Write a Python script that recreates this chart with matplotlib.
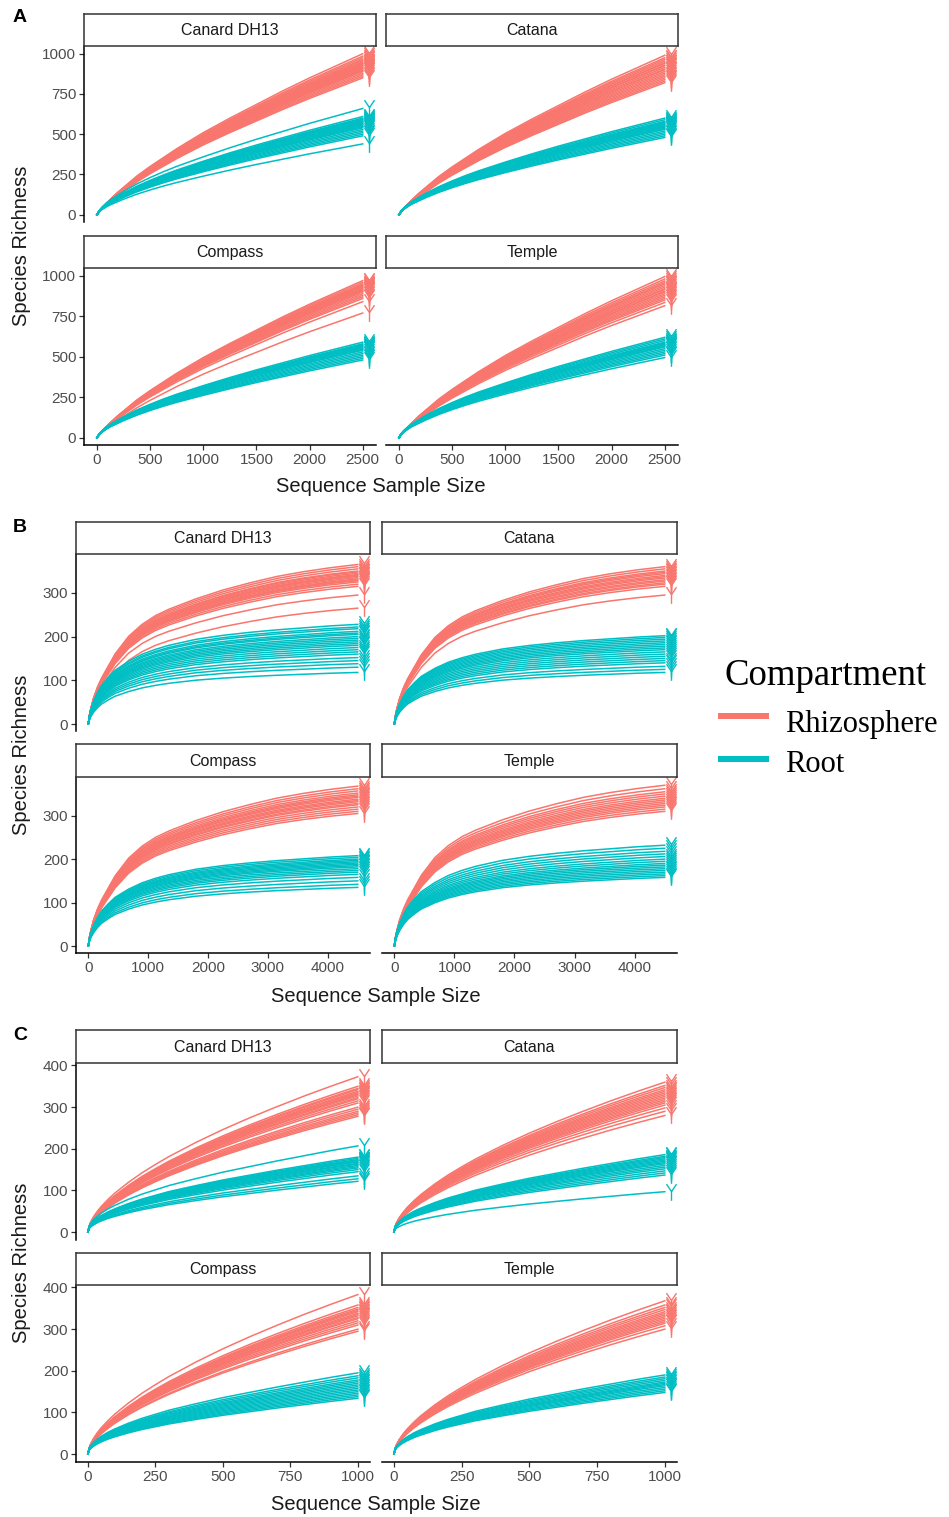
import matplotlib
matplotlib.use('Agg')
import matplotlib.pyplot as plt
from matplotlib.path import Path
from matplotlib.lines import Line2D

# rarefaction curves, 3 datasets (A, B, C) x 4 cultivars x 2 compartments

cultivars = ['Canard DH13', 'Catana', 'Compass', 'Temple']
compartments = ['Rhizosphere', 'Root']
colors = ['#F8766D', '#00BFC4']

# sequencing depth where every curve stops
a_depth = 2500
b_depth = 4500
c_depth = 1000

# curve shape: richness / final richness at fractions of depth
depth_frac = [0, .005, .01, .02, .035, .05, .075, .1, .15, .2, .25, .3, .4, .5, .6, .7, .8, .9, 1.0]
a_rhizo_shape = [0, .012, .025, .045, .07, .095, .135, .17, .24, .3, .355, .41, .51, .6, .685, .77, .85, .925, 1]
a_root_shape = [0, .025, .045, .075, .11, .14, .18, .22, .29, .35, .405, .455, .545, .63, .71, .785, .86, .93, 1]
b_rhizo_shape = [0, .06, .1, .165, .235, .29, .365, .44, .55, .625, .68, .72, .785, .84, .885, .925, .955, .98, 1]
b_root_shape = [0, .09, .15, .23, .32, .39, .47, .54, .63, .7, .75, .79, .85, .89, .92, .945, .965, .985, 1]
c_rhizo_shape = [0, .04, .063, .096, .134, .166, .211, .251, .32, .381, .435, .486, .577, .66, .736, .807, .875, .939, 1]
c_root_shape = [0, .07, .1, .14, .185, .22, .27, .31, .38, .44, .49, .54, .62, .695, .76, .825, .885, .945, 1]

# final richness of each sample (order: Canard DH13, Catana, Compass, Temple)
a_rhizo_end = [
    [1000, 985, 975, 965, 958, 950, 945, 940, 935, 930, 925, 920, 915, 910, 905, 900, 895, 890, 880, 870, 860, 850],
    [990, 975, 965, 955, 945, 940, 930, 925, 915, 905, 900, 890, 880, 870, 860, 850, 840, 830, 820],
    [970, 960, 950, 945, 940, 935, 930, 925, 920, 915, 910, 905, 900, 890, 880, 870, 860, 840, 770],
    [995, 980, 968, 958, 950, 940, 930, 920, 915, 905, 900, 890, 880, 870, 860, 850, 835, 815],
]
a_root_end = [
    [660, 610, 600, 595, 590, 585, 580, 575, 570, 565, 560, 555, 550, 545, 540, 530, 520, 510, 500, 490, 440],
    [600, 590, 580, 575, 570, 565, 560, 555, 550, 545, 540, 535, 530, 520, 510, 500, 490, 480],
    [590, 580, 575, 570, 565, 560, 555, 550, 545, 540, 530, 520, 510, 500, 490, 480],
    [620, 610, 600, 590, 585, 580, 575, 570, 565, 560, 550, 540, 530, 520, 510, 495],
]
b_rhizo_end = [
    [365, 360, 355, 350, 348, 345, 342, 340, 338, 335, 332, 330, 328, 325, 320, 315, 295, 265],
    [360, 355, 350, 347, 344, 340, 337, 334, 330, 327, 323, 320, 315, 295],
    [368, 362, 357, 352, 348, 345, 342, 338, 335, 332, 328, 325, 320, 315, 310, 305],
    [370, 362, 355, 350, 345, 340, 336, 332, 328, 324, 320, 315, 310],
]
b_root_end = [
    [228, 222, 218, 212, 208, 205, 200, 196, 192, 188, 184, 180, 175, 170, 165, 160, 152, 145, 138, 130, 118],
    [202, 198, 194, 190, 186, 182, 178, 174, 170, 165, 160, 155, 150, 145, 140, 132, 125, 118],
    [208, 204, 200, 197, 194, 191, 188, 185, 182, 178, 174, 170, 165, 158, 150, 142, 135],
    [232, 225, 218, 212, 206, 200, 195, 190, 186, 182, 178, 174, 170, 166, 162, 158],
]
c_rhizo_end = [
    [373, 350, 345, 342, 338, 335, 332, 330, 327, 323, 320, 315, 310, 300, 295, 290, 286, 282, 278],
    [360, 352, 347, 342, 338, 334, 330, 326, 322, 318, 314, 310, 305, 298, 290, 280],
    [383, 358, 352, 348, 345, 342, 338, 335, 332, 328, 325, 320, 315, 310, 300, 295],
    [368, 358, 352, 347, 342, 338, 334, 330, 326, 322, 318, 314, 308, 300],
]
c_root_end = [
    [207, 180, 177, 174, 172, 170, 168, 165, 163, 160, 157, 154, 150, 145, 135, 128, 122],
    [186, 182, 179, 176, 173, 170, 167, 164, 160, 156, 152, 147, 142, 137, 97],
    [195, 188, 183, 178, 174, 170, 166, 162, 158, 154, 150, 146, 142, 138, 134],
    [190, 185, 181, 177, 173, 170, 167, 164, 160, 156, 152, 148],
]

a_xticks = [0, 500, 1000, 1500, 2000, 2500]
b_xticks = [0, 1000, 2000, 3000, 4000]
c_xticks = [0, 250, 500, 750, 1000]
a_yticks = [0, 250, 500, 750, 1000]
b_yticks = [0, 100, 200, 300]
c_yticks = [0, 100, 200, 300, 400]

W, H = 949, 1517
SANS = 'Liberation Sans'
SERIF = 'Liberation Serif'

# Y shaped end marker
ymark = Path([(0, -1), (0, 0.1), (-0.6, 1), (0, 0.1), (0.6, 1)],
             [Path.MOVETO, Path.LINETO, Path.LINETO, Path.MOVETO, Path.LINETO])

fig = plt.figure(figsize=(W / 100, H / 100), dpi=100)


def rect(x0, y0, x1, y1):
    return [x0 / W, 1 - y1 / H, (x1 - x0) / W, (y1 - y0) / H]


def draw_block(letter, letter_y, cols, rows, depth, shapes, ends, xlim, ylim, xticks, yticks,
               xtitle_y, ytitle_y, xtitle_x):
    for k, name in enumerate(cultivars):
        r, c = divmod(k, 2)
        x0, x1 = cols[c]
        s0, s1, p1 = rows[r]
        # panel
        ax = fig.add_axes(rect(x0, s1, x1, p1))
        ax.set_facecolor('none')
        for g in range(2):
            for end in ends[g][k]:
                xs = [f * depth for f in depth_frac]
                ys = [v * end for v in shapes[g]]
                ax.plot(xs, ys, color=colors[g], lw=1.1, solid_joinstyle='round')
                ax.plot([depth * 1.022], [end], marker=ymark, ms=12, mew=1.0,
                        color=colors[g], fillstyle='none', ls='none')
        ax.set_xlim(*xlim)
        ax.set_ylim(*ylim)
        ax.set_xticks(xticks)
        ax.set_yticks(yticks)
        ax.spines['top'].set_visible(False)
        ax.spines['right'].set_visible(False)
        ax.spines['left'].set_linewidth(1.1)
        ax.spines['bottom'].set_linewidth(1.1)
        ax.tick_params(length=3.5, width=0.9, color='#333333', labelcolor='#4D4D4D', labelsize=11, pad=2)
        for t in ax.get_xticklabels() + ax.get_yticklabels():
            t.set_family(SANS)
        if c == 1:
            ax.spines['left'].set_visible(False)
            ax.tick_params(axis='y', left=False, labelleft=False)
        if r == 0:
            ax.spines['bottom'].set_visible(False)
            ax.tick_params(axis='x', bottom=False, labelbottom=False)
        # strip
        sax = fig.add_axes(rect(x0, s0, x1, s1))
        sax.set_xticks([])
        sax.set_yticks([])
        for sp in sax.spines.values():
            sp.set_linewidth(1.1)
            sp.set_color('#333333')
        sax.text(0.5, 0.48, name, ha='center', va='center', fontsize=11.5, family=SANS, color='#1A1A1A',
                 transform=sax.transAxes)
    fig.text(20 / W, 1 - letter_y / H, letter, fontsize=14, fontweight='bold', family=SANS,
             ha='center', va='center')
    fig.text(xtitle_x / W, 1 - xtitle_y / H, 'Sequence Sample Size', fontsize=14.5, family=SANS,
             ha='center', va='center', color='#1A1A1A')
    fig.text(22 / W, 1 - ytitle_y / H, 'Species Richness', fontsize=14.5, family=SANS, rotation=90,
             ha='center', va='center', color='#1A1A1A')


draw_block('A', 18, [(84, 376), (386, 678)], [(14, 46, 222), (236, 268, 445)], a_depth,
           [a_rhizo_shape, a_root_shape], [a_rhizo_end, a_root_end],
           (-122, 2625), (-45, 1048), a_xticks, a_yticks, 487, 246, 381)

draw_block('B', 528, [(76, 370), (382, 677)], [(522, 554, 731), (744, 777, 953)], b_depth,
           [b_rhizo_shape, b_root_shape], [b_rhizo_end, b_root_end],
           (-205, 4705), (-16, 389), b_xticks, b_yticks, 996, 755, 376)

draw_block('C', 1036, [(76, 370), (382, 677)], [(1030, 1063, 1240), (1253, 1285, 1462)], c_depth,
           [c_rhizo_shape, c_root_shape], [c_rhizo_end, c_root_end],
           (-44, 1045), (-19, 406), c_xticks, c_yticks, 1504, 1263, 376)

# legend
fig.text(725 / W, 1 - 685 / H, 'Compartment', fontsize=26.5, family=SERIF, ha='left', va='baseline')
key_y = [716, 759]
label_base = [732, 772]
for g, comp in enumerate(compartments):
    fig.add_artist(Line2D([721 / W, 766 / W], [1 - key_y[g] / H] * 2, color=colors[g], lw=4.3,
                          transform=fig.transFigure))
    fig.text(785 / W, 1 - label_base[g] / H, comp, fontsize=22, family=SERIF, ha='left', va='baseline')

fig.savefig('out.png', dpi=100)
